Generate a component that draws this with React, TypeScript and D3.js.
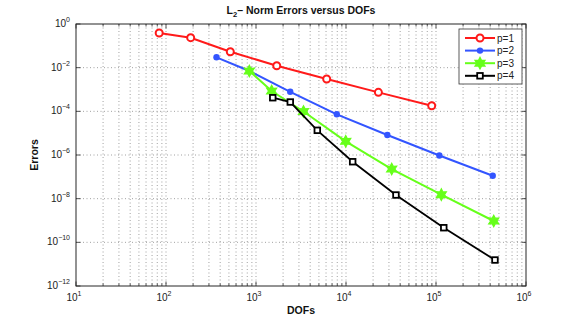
import * as d3 from "d3";

const WIDTH = 581;
const HEIGHT = 322;
const MARGIN = { top: 24, right: 55, bottom: 36, left: 76 };

// DOFs and errors per polynomial degree
const P1_DOFS = [84, 188, 518, 1700, 6100, 22900, 89600];
const P1_ERR = [0.387, 0.236, 0.0538, 0.0123, 0.00302, 7.4e-4, 1.81e-4];
const P2_DOFS = [364, 847, 2400, 7900, 28800, 109000, 427000];
const P2_ERR = [0.0298, 0.00703, 7.84e-4, 7.3e-5, 8.2e-6, 9.5e-7, 1.12e-7];
const P3_DOFS = [843, 1493, 3370, 9930, 32200, 114600, 438000];
const P3_ERR = [0.00703, 8.5e-4, 9.8e-5, 4.23e-6, 2.28e-7, 1.52e-8, 9.5e-10];
const P4_DOFS = [1535, 2404, 4800, 11860, 35900, 122000, 452000];
const P4_ERR = [4.2e-4, 2.67e-4, 1.35e-5, 4.92e-7, 1.47e-8, 4.67e-10, 1.55e-11];

const SERIES_NAMES = ["p=1", "p=2", "p=3", "p=4"];
const COLORS = ["#ff1a1a", "#3355ff", "#66ff1a", "#000000"];
const MARKERS = ["circle", "dot", "hexagram", "square"];

const X_TICK_EXP = [1, 2, 3, 4, 5, 6];
const Y_TICK_EXP = [0, -2, -4, -6, -8, -10, -12];

const FONT = "'Liberation Sans', Arial, Helvetica, sans-serif";

function hexagramPath(r: number) {
  const pts: [number, number][] = [];
  for (let i = 0; i < 12; i++) {
    const a = (Math.PI / 6) * i - Math.PI / 2;
    const rr = i % 2 === 0 ? r : r * 0.55;
    pts.push([rr * Math.cos(a), rr * Math.sin(a)]);
  }
  return "M" + pts.map((p) => p.join(",")).join("L") + "Z";
}

function Marker({ kind, color, x, y }: { kind: string; color: string; x: number; y: number }) {
  if (kind === "circle")
    return <circle cx={x} cy={y} r={3.5} fill="white" stroke={color} strokeWidth={2} />;
  if (kind === "dot") return <circle cx={x} cy={y} r={3.2} fill={color} />;
  if (kind === "hexagram")
    return (
      <path d={hexagramPath(5.8)} transform={`translate(${x},${y})`} fill={color} stroke={color} strokeWidth={1.2} />
    );
  return <rect x={x - 2.8} y={y - 2.8} width={5.6} height={5.6} fill="white" stroke={color} strokeWidth={1.8} />;
}

export default function App() {
  const boundsWidth = WIDTH - MARGIN.left - MARGIN.right;
  const boundsHeight = HEIGHT - MARGIN.top - MARGIN.bottom;

  const xScale = d3.scaleLog().domain([10, 1e6]).range([0, boundsWidth]);
  const yScale = d3.scaleLog().domain([1e-12, 1]).range([boundsHeight, 0]);

  const series = [
    { dofs: P1_DOFS, err: P1_ERR },
    { dofs: P2_DOFS, err: P2_ERR },
    { dofs: P3_DOFS, err: P3_ERR },
    { dofs: P4_DOFS, err: P4_ERR },
  ].map((s, i) => ({
    name: SERIES_NAMES[i],
    color: COLORS[i],
    marker: MARKERS[i],
    points: s.dofs.map((d, j) => [d, s.err[j]] as [number, number]),
  }));

  const line = d3
    .line<[number, number]>()
    .x((d) => xScale(d[0]))
    .y((d) => yScale(d[1]));

  // vertical grid: decades plus 2..9 inside each decade
  const xGrid: number[] = [];
  for (let e = 1; e < 6; e++) for (let m = 1; m < 10; m++) xGrid.push(m * Math.pow(10, e));
  xGrid.push(1e6);

  const grid = (
    <g stroke="#7a7a7a" strokeWidth={0.7} strokeDasharray="1,2.5">
      {xGrid
        .filter((v) => v > 10 && v < 1e6)
        .map((v, i) => (
          <line key={"gx" + i} x1={xScale(v)} x2={xScale(v)} y1={0} y2={boundsHeight} />
        ))}
      {Y_TICK_EXP.filter((e) => e !== 0 && e !== -12).map((e, i) => (
        <line key={"gy" + i} x1={0} x2={boundsWidth} y1={yScale(Math.pow(10, e))} y2={yScale(Math.pow(10, e))} />
      ))}
    </g>
  );

  const ticks = (
    <g stroke="#262626" strokeWidth={0.8}>
      {xGrid.map((v, i) => {
        const major = Number.isInteger(Math.log10(v));
        const len = major ? 4.5 : 2.5;
        return (
          <g key={"tx" + i}>
            <line x1={xScale(v)} x2={xScale(v)} y1={boundsHeight} y2={boundsHeight - len} />
            <line x1={xScale(v)} x2={xScale(v)} y1={0} y2={len} />
          </g>
        );
      })}
      {Y_TICK_EXP.map((e, i) => (
        <g key={"ty" + i}>
          <line x1={0} x2={4.5} y1={yScale(Math.pow(10, e))} y2={yScale(Math.pow(10, e))} />
          <line x1={boundsWidth} x2={boundsWidth - 4.5} y1={yScale(Math.pow(10, e))} y2={yScale(Math.pow(10, e))} />
        </g>
      ))}
    </g>
  );

  const xLabels = X_TICK_EXP.map((e, i) => (
    <text key={"lx" + i} x={xScale(Math.pow(10, e)) - 2} y={boundsHeight + 15} textAnchor="middle" fontSize={10} fill="#222">
      10
      <tspan dy={-5} fontSize={7}>
        {e}
      </tspan>
    </text>
  ));

  const yLabels = Y_TICK_EXP.map((e, i) => (
    <text key={"ly" + i} x={-6} y={yScale(Math.pow(10, e)) + 3} textAnchor="end" fontSize={10} fill="#222">
      10
      <tspan dy={-5} fontSize={7}>
        {e === 0 ? "0" : "\u2212" + Math.abs(e)}
      </tspan>
    </text>
  ));

  const legendX = 459 - MARGIN.left;
  const legendY = 29 - MARGIN.top;
  const legend = (
    <g transform={`translate(${legendX},${legendY})`}>
      <rect x={0} y={0} width={63} height={55} fill="white" stroke="#333" strokeWidth={0.8} />
      {series.map((s, i) => {
        const yy = 9 + i * 12.6;
        return (
          <g key={"lg" + i}>
            <line x1={6} x2={36} y1={yy} y2={yy} stroke={s.color} strokeWidth={2} />
            <Marker kind={s.marker} color={s.color} x={21} y={yy} />
            <text x={38} y={yy + 3.5} fontSize={10} fill="#222">
              {s.name}
            </text>
          </g>
        );
      })}
    </g>
  );

  return (
    <svg width={WIDTH} height={HEIGHT} style={{ position: "absolute", left: 0, top: 0, fontFamily: FONT }}>
      <rect width={WIDTH} height={HEIGHT} fill="white" />
      <text x={301} y={14} textAnchor="middle" fontSize={10.5} fontWeight="bold" fill="#111">
        L
        <tspan dy={3} fontSize={7.5}>
          2
        </tspan>
        <tspan dy={-3}>– Norm Errors versus DOFs</tspan>
      </text>
      <g transform={`translate(${MARGIN.left},${MARGIN.top})`}>
        {grid}
        {ticks}
        <rect x={0} y={0} width={boundsWidth} height={boundsHeight} fill="none" stroke="#262626" strokeWidth={1} />
        {series.map((s, i) => (
          <g key={"s" + i}>
            <path d={line(s.points) || ""} fill="none" stroke={s.color} strokeWidth={i === 3 ? 1.8 : 2} />
            {s.points.map((p, j) => (
              <Marker key={j} kind={s.marker} color={s.color} x={xScale(p[0])} y={yScale(p[1])} />
            ))}
          </g>
        ))}
        {legend}
        {xLabels}
        {yLabels}
        <text x={boundsWidth / 2} y={boundsHeight + 28} textAnchor="middle" fontSize={10.5} fontWeight="bold" fill="#111">
          DOFs
        </text>
        <text
          transform={`translate(${-38},${boundsHeight / 2}) rotate(-90)`}
          textAnchor="middle"
          fontSize={10.5}
          fontWeight="bold"
          fill="#111"
        >
          Errors
        </text>
      </g>
    </svg>
  );
}
